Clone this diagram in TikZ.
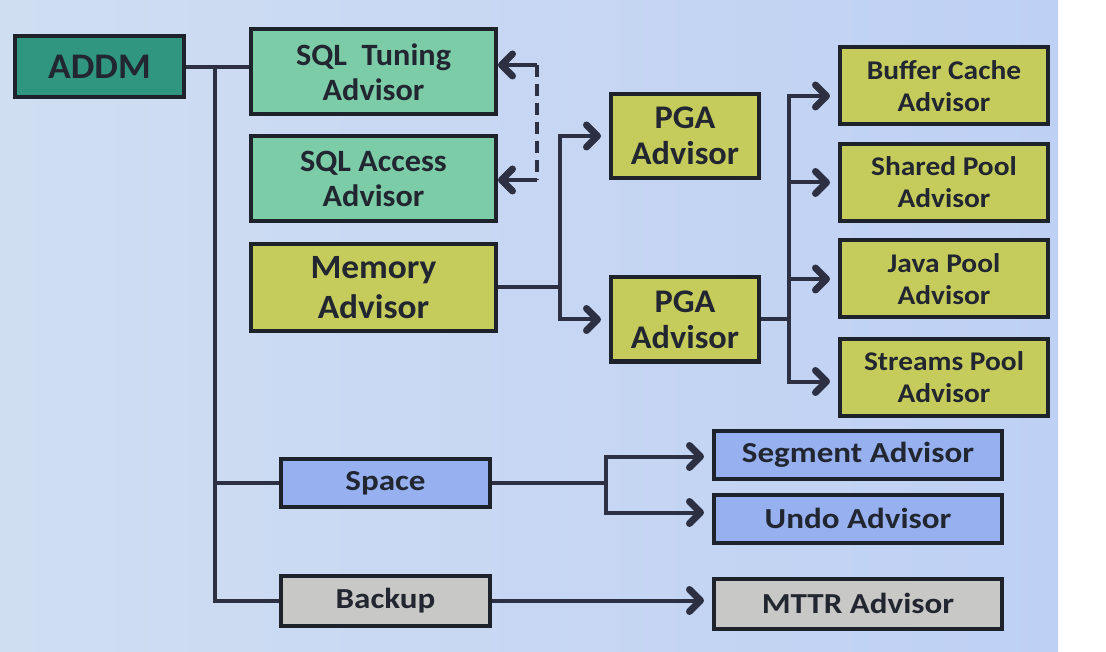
\documentclass[tikz,border=0pt]{standalone}
\usepackage{fontspec}
\setmainfont{Carlito}[FakeStretch=1.04]
\newfontfamily\poolfont{Carlito}[FakeStretch=1.09]
\newfontfamily\widefont{Carlito}[FakeStretch=1.14]
\usetikzlibrary{arrows.meta,positioning}
\definecolor{bgleft}{RGB}{208,222,242}
\definecolor{bgright}{RGB}{190,208,244}
\definecolor{boxline}{RGB}{30,34,42}
\definecolor{boxtext}{RGB}{34,38,48}
\definecolor{linkcol}{RGB}{44,48,66}
\definecolor{addmteal}{RGB}{48,150,128}
\definecolor{sqlgreen}{RGB}{124,204,168}
\definecolor{memyellow}{RGB}{198,204,92}
\definecolor{spaceblue}{RGB}{150,176,240}
\definecolor{backgrey}{RGB}{200,200,198}
\tikzset{main node/.style={rectangle,draw=boxline,line width=4pt,text=boxtext,align=center,inner sep=0pt},
         addm node/.style={main node,fill=addmteal,minimum width=169pt,minimum height=61pt,font=\bfseries\fontsize{36}{40}\selectfont},
         sql node/.style={main node,fill=sqlgreen,minimum width=245pt,minimum height=85pt,font=\bfseries\fontsize{31}{35}\selectfont},
         mem node/.style={main node,fill=memyellow,minimum width=245pt,minimum height=87pt,font=\bfseries\fontsize{34}{40}\selectfont},
         pga node/.style={main node,fill=memyellow,minimum width=148pt,minimum height=84pt,font=\bfseries\fontsize{33}{36}\selectfont},
         pool node/.style={main node,fill=memyellow,minimum width=208pt,minimum height=77pt,font=\poolfont\bfseries\fontsize{27}{32}\selectfont},
         space node/.style={main node,fill=spaceblue,minimum height=48pt,font=\widefont\bfseries\fontsize{29}{32}\selectfont},
         back node/.style={main node,fill=backgrey,minimum height=50pt,font=\widefont\bfseries\fontsize{29}{32}\selectfont},
         link/.style={draw=linkcol,line width=4pt},
         arrow link/.style={link,->,shorten >=8pt},
         back link/.style={link,->}
}
\begin{document}
\begin{tikzpicture}[x=1pt,y=-1pt,
>={Straight Barb[length=11pt,width=22pt,line width=7pt,round]}]
\useasboundingbox (0,0) rectangle (1106,652);
\shade[left color=bgleft,right color=bgright] (0,0) rectangle (1058,652);

\node[addm node] (0) at (99.5,67) {ADDM};
\node[sql node] (1) at (373.5,72) {SQL~~Tuning\\Advisor};
\node[sql node] (2) at (373.5,179) {SQL Access\\Advisor};
\node[mem node] (3) at (373.5,287.5) {Memory\\Advisor};
\node[pga node] (4) at (685,136) {PGA\\Advisor};
\node[pga node] (5) at (685,319.5) {PGA\\Advisor};
\node[pool node] (6) at (944,86) {Buffer Cache\\Advisor};
\node[pool node] (7) at (944,182.5) {Shared Pool\\Advisor};
\node[pool node] (8) at (944,279) {Java Pool\\Advisor};
\node[pool node] (9) at (944,377.5) {Streams Pool\\Advisor};
\node[space node,minimum width=209pt] (10) at (385.5,483) {Space};
\node[space node,minimum width=288pt] (11) at (858,454.5) {Segment Advisor};
\node[space node,minimum width=288pt] (12) at (858,518.5) {Undo Advisor};
\node[back node,minimum width=209pt] (13) at (385.5,600.5) {Backup};
\node[back node,minimum width=288pt] (14) at (858,603.5) {MTTR Advisor};

\coordinate (t) at (215,67);
\coordinate (d1) at (537,65);
\coordinate (d2) at (537,180);
\coordinate (m) at ([xshift=62pt]3.east);
\coordinate (p) at ([xshift=28pt]5.east);
\coordinate (s) at ([xshift=114pt]10.east);

\draw[link] (0.east) -- (1.west |- 0.east);
\draw[link] (t) |- (10.west);
\draw[link] (t) |- (13.west);

\draw[link,dash pattern=on 12pt off 7pt] (d1) -- (d2);
\draw[back link] (d1) -- (d1 -| 1.east);
\draw[back link] (d2) -- (d2 -| 2.east);

\draw[link] (3.east) -- (m);
\draw[arrow link] (m) |- (4.west);
\draw[arrow link] (m) |- (5.west);

\draw[link] (5.east) -- (p);
\draw[arrow link] (p) |- ([yshift=-10pt]6.west);
\draw[arrow link] (p) |- (7.west);
\draw[arrow link] (p) |- (8.west);
\draw[arrow link] (p) |- ([yshift=-4pt]9.west);

\draw[link] (10.east) -- (s);
\draw[arrow link] (s) |- ([yshift=-2pt]11.west);
\draw[arrow link] (s) |- ([yshift=6pt]12.west);

\draw[arrow link] (13.east) -- (13.east -| 14.west);
\end{tikzpicture}
\end{document}
